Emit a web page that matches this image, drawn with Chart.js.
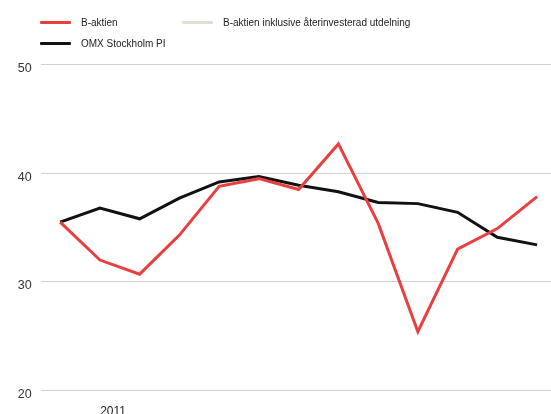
<!DOCTYPE html>
<html>
<head>
<meta charset="utf-8">
<script src="https://cdn.jsdelivr.net/npm/chart.js@4/dist/chart.umd.min.js"></script>
<style>
  html, body { margin: 0; padding: 0; background: #fff; }
  #wrap { position: relative; width: 551px; height: 414px; overflow: hidden; }
  #chart { position: absolute; left: 0; top: 0; }
  .leg { position: absolute; font: 10px "Liberation Sans", Arial, sans-serif; color: #222; white-space: nowrap; }
  .leg i { position: absolute; left: 0; top: 5px; width: 31px; height: 3px; border-radius: 1px; }
  .leg span { position: absolute; left: 41px; top: 0; line-height: 13px; }
</style>
</head>
<body>
<div id="wrap">
  <canvas id="chart" width="551" height="414"></canvas>
  <div id="legend"></div>
</div>
<script>
// quarterly points, first one is the base
const points = [0, 1, 2, 3, 4, 5, 6, 7, 8, 9, 10, 11, 12];
const bAktien = [35.5, 32.0, 30.7, 34.3, 38.8, 39.5, 38.5, 42.7, 35.4, 25.4, 33.0, 34.9, 37.85];
const omxPI = [35.5, 36.8, 35.8, 37.7, 39.2, 39.7, 38.9, 38.3, 37.3, 37.2, 36.4, 34.1, 33.4];
const yearTicks = [1.33];
const yearLabels = ["2011"];

const series = [
  { label: "B-aktien", color: "#e8403f", values: bAktien },
  { label: "B-aktien inklusive återinvesterad utdelning", color: "#dfe0d0", values: [] },
  { label: "OMX Stockholm PI", color: "#111111", values: omxPI }
];

// legend laid out like the original (two columns, wraps after the second)
const legendPos = [[40, 16], [182, 16], [40, 37]];
const legendDiv = document.getElementById("legend");
series.forEach(function (s, i) {
  const d = document.createElement("div");
  d.className = "leg";
  d.style.left = legendPos[i][0] + "px";
  d.style.top = legendPos[i][1] + "px";
  d.innerHTML = '<i style="background:' + s.color + '"></i><span>' + s.label + "</span>";
  legendDiv.appendChild(d);
});

new Chart(document.getElementById("chart"), {
  type: "line",
  data: {
    datasets: series.map(function (s) {
      return {
        label: s.label,
        data: s.values.map((v, i) => ({ x: points[i], y: v })),
        borderColor: s.color,
        borderWidth: 3,
        pointRadius: 0,
        tension: 0,
        fill: false
      };
    })
  },
  options: {
    responsive: false,
    animation: false,
    layout: { padding: { top: 64.7, right: 0, bottom: 0, left: 0 } },
    plugins: { legend: { display: false }, tooltip: { enabled: false } },
    scales: {
      x: {
        type: "linear",
        min: -0.49,
        max: 12.35,
        grid: { display: false },
        border: { display: false },
        afterBuildTicks: function (scale) {
          scale.ticks = yearTicks.map(v => ({ value: v }));
        },
        afterFit: function (scale) { scale.height = 23.7; },
        ticks: {
          padding: 6.5,
          maxRotation: 0,
          autoSkip: false,
          color: "#222",
          font: { family: "'Liberation Sans', Arial, sans-serif", size: 12 },
          callback: function (v) {
            const i = yearTicks.indexOf(v);
            return i >= 0 ? yearLabels[i] : "";
          }
        }
      },
      y: {
        min: 20,
        max: 50,
        grid: { color: "#d2d2d2", lineWidth: 1, drawTicks: false },
        border: { display: false },
        afterFit: function (scale) { scale.width = 40.7; },
        ticks: {
          stepSize: 10,
          padding: 9,
          labelOffset: 4,
          color: "#333",
          font: { family: "'Liberation Sans', Arial, sans-serif", size: 12.5 }
        }
      }
    }
  }
});
</script>
</body>
</html>
